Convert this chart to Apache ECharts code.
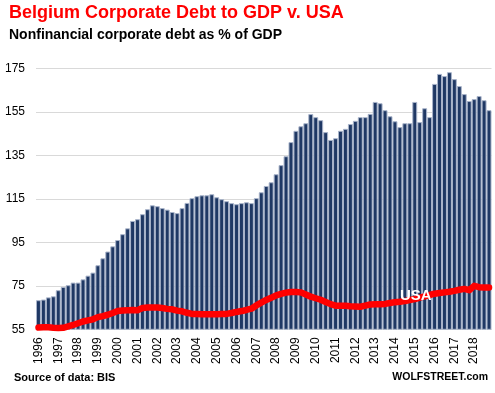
<!DOCTYPE html>
<html><head><meta charset="utf-8">
<script src="https://cdn.jsdelivr.net/npm/echarts@6/dist/echarts.min.js"></script>
<style>html,body{margin:0;padding:0;background:#fff}#c{width:495px;height:393px}</style>
</head><body><div id="c"></div>
<script>
const years = ['1996','1997','1998','1999','2000','2001','2002','2003','2004','2005','2006','2007','2008','2009','2010','2011','2012','2013','2014','2015','2016','2017','2018'];
const quarters = ['Q1','Q2','Q3','Q4'];
const yTicks = { min: 55, max: 175, step: 20 };

// Belgium nonfinancial corporate debt, % of GDP (quarterly)
const belgium = [
  68.4, 68.7, 69.7, 70.2, 73.0, 74.5, 75.3, 76.5,
  76.5, 78.0, 79.7, 81.1, 84.5, 87.7, 90.8, 93.2,
  96.1, 98.8, 101.5, 104.9, 105.7, 108.0, 110.3, 112.1,
  111.7, 110.8, 110.1, 109.0, 108.5, 110.8, 113.2, 115.4,
  116.3, 116.7, 116.7, 117.2, 115.8, 114.9, 114.0, 113.1,
  112.6, 113.1, 113.5, 113.1, 115.4, 118.1, 121.0, 122.7,
  126.4, 130.6, 134.7, 141.2, 146.4, 148.5, 149.9, 154.1,
  152.7, 151.3, 145.8, 142.2, 143.0, 146.4, 147.3, 149.5,
  151.0, 152.7, 152.7, 154.2, 159.7, 159.1, 155.9, 153.1,
  150.8, 148.1, 149.9, 149.9, 159.7, 150.4, 156.8, 152.7,
  168.0, 172.6, 171.6, 173.4, 170.2, 167.0, 163.3, 160.1,
  161.0, 162.4, 160.5, 155.9
];

// USA nonfinancial corporate debt, % of GDP (quarterly)
const usa = [
  55.8, 55.9, 55.9, 55.7, 55.6, 55.7, 56.3, 57.0,
  57.8, 58.6, 59.1, 59.6, 60.6, 61.1, 61.7, 62.5,
  63.4, 63.7, 63.8, 63.9, 63.8, 64.8, 65.0, 65.0,
  65.0, 64.8, 64.4, 64.2, 63.6, 63.3, 62.6, 62.1,
  62.0, 61.9, 61.9, 61.9, 61.9, 62.0, 62.1, 62.5,
  63.0, 63.4, 63.9, 64.5, 66.0, 67.3, 68.5, 69.5,
  70.6, 71.3, 71.9, 72.2, 72.2, 72.0, 71.0, 70.0,
  69.3, 68.6, 67.6, 66.6, 65.9, 65.8, 65.8, 65.6,
  65.5, 65.4, 65.9, 66.4, 66.5, 66.5, 66.7, 67.1,
  67.5, 67.7, 68.0, 68.5, 68.9, 69.6, 70.2, 70.8,
  71.4, 71.7, 72.0, 72.3, 72.7, 73.2, 73.6, 73.0,
  75.0, 74.4, 74.2, 74.2
];

const categories = [];
years.forEach(y => quarters.forEach(q => categories.push(y + ' ' + q)));

const FONT = '"Liberation Sans", Arial, sans-serif';
const chart = echarts.init(document.getElementById('c'), null, { renderer: 'canvas' });
chart.setOption({
  animation: false,
  backgroundColor: '#ffffff',
  textStyle: { fontFamily: FONT },
  grid: { left: 36, right: 3.5, top: 68.7, bottom: 63.7 },
  xAxis: {
    type: 'category',
    data: categories,
    boundaryGap: true,
    axisLine: { show: true, lineStyle: { color: '#d9d9d9', width: 1 } },
    axisTick: { show: false },
    axisLabel: {
      interval: 3,
      rotate: 90,
      margin: 8,
      color: '#000',
      fontSize: 12,
      fontFamily: FONT,
      formatter: v => v.split(' ')[0]
    },
    splitLine: { show: false }
  },
  yAxis: {
    type: 'value',
    min: yTicks.min,
    max: yTicks.max,
    interval: yTicks.step,
    axisLine: { show: false },
    axisTick: { show: false },
    axisLabel: { color: '#000', fontSize: 12, margin: 11, fontFamily: FONT },
    splitLine: { show: true, lineStyle: { color: '#d9d9d9', width: 1 } }
  },
  series: [
    {
      name: 'Belgium',
      type: 'bar',
      data: belgium,
      barCategoryGap: '0%',
      itemStyle: { color: '#1f3864', borderColor: '#a9b4ca', borderWidth: 1 },
      z: 2
    },
    {
      name: 'USA',
      type: 'line',
      data: usa,
      symbol: 'none',
      smooth: false,
      lineStyle: { color: '#ff0000', width: 6.5, cap: 'round', join: 'round' },
      z: 3
    }
  ],
  graphic: [
    { type: 'text', left: 9, top: 4, z: 10,
      style: { text: 'Belgium Corporate Debt to GDP v. USA', fill: '#ff0000', font: 'bold 18px ' + FONT } },
    { type: 'text', left: 9, top: 28, z: 10,
      style: { text: 'Nonfinancial corporate debt as % of GDP', fill: '#000', font: 'bold 14px ' + FONT } },
    { type: 'text', left: 14, top: 372, z: 10,
      style: { text: 'Source of data: BIS', fill: '#000', font: 'bold 11px ' + FONT } },
    { type: 'text', right: 7, top: 372, z: 10,
      style: { text: 'WOLFSTREET.com', fill: '#000', font: 'bold 10.5px ' + FONT } },
    { type: 'text', left: 400, top: 288, z: 10,
      style: { text: 'USA', fill: '#ffffff', font: 'bold 15px ' + FONT } }
  ]
});
</script>
</body></html>
